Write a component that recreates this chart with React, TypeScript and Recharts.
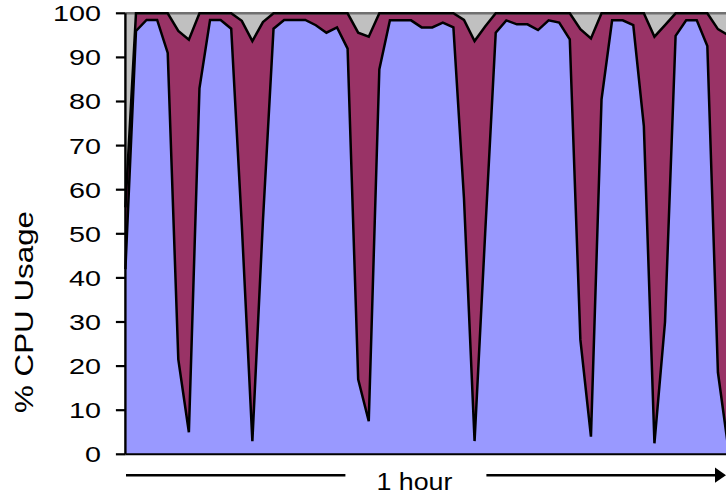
import React from 'react';
import { ComposedChart, Area, Line, XAxis, YAxis, Label } from 'recharts';

// CPU time split per sample across one hour; each sample sums to 100 %.
const userPct = [
  42, 96, 98.5, 98.5, 91, 21.5, 5, 83, 98.5, 98.5,
  96.5, 52, 3, 53, 96.5, 98.5, 98.5, 98.5, 97.3, 95.6,
  96.8, 92, 17, 7.5, 87.3, 98.4, 98.4, 98.4, 96.8, 96.8,
  97.9, 96.8, 58, 3, 50, 95.6, 98.4, 97.5, 97.5, 96.2,
  98.4, 97.9, 94.1, 26, 4, 80.5, 98.4, 98.4, 97.3, 74.4,
  2.5, 30, 94.9, 98.4, 98.4, 92.6, 18.6, 1,
];
const systemPct = [
  14, 4, 1.5, 1.5, 9, 74.5, 89, 17, 1.5, 1.5,
  3.5, 46.3, 90.7, 45, 3.5, 1.5, 1.5, 1.5, 2.7, 4.4,
  3.2, 8, 78.6, 87.2, 12.7, 1.6, 1.6, 1.6, 3.2, 3.2,
  2.1, 3.2, 40.5, 90.7, 47, 4.4, 1.6, 2.5, 2.5, 3.8,
  1.6, 2.1, 5.9, 70.4, 90.3, 19.5, 1.6, 1.6, 2.7, 25.6,
  92.2, 67.3, 5.1, 1.6, 1.6, 7.4, 77.8, 94,
];
const idlePct = [
  44, 0, 0, 0, 0, 4, 6, 0, 0, 0,
  0, 1.7, 6.3, 2, 0, 0, 0, 0, 0, 0,
  0, 0, 4.4, 5.3, 0, 0, 0, 0, 0, 0,
  0, 0, 1.5, 6.3, 3, 0, 0, 0, 0, 0,
  0, 0, 0, 3.6, 5.7, 0, 0, 0, 0, 0,
  5.3, 2.7, 0, 0, 0, 0, 3.6, 5,
];
const yTicks = [0, 10, 20, 30, 40, 50, 60, 70, 80, 90, 100];
const yTitle = '% CPU Usage';
const spanLabel = '1 hour';

const FONT = '"Liberation Sans", Arial, sans-serif';

const data = userPct.map((u, i) => ({
  t: i,
  user: u,
  system: systemPct[i],
  idle: idlePct[i],
}));

const YTick = (props: any) => {
  const { x, y, payload } = props;
  const s = String(payload.value);
  return (
    <text
      x={x}
      y={y}
      dy="0.36em"
      textAnchor="end"
      fontFamily={FONT}
      fontSize={22}
      fill="#000"
      textLength={16 * s.length}
      lengthAdjust="spacingAndGlyphs"
    >
      {s}
    </text>
  );
};

const YTitle = (props: any) => {
  const vb = props.viewBox || { x: 0, y: 0, width: 0, height: 0 };
  const cx = vb.x + 17.6;
  const cy = vb.y + 298.7;
  return (
    <text
      x={cx}
      y={cy}
      transform={`rotate(-90, ${cx}, ${cy})`}
      textAnchor="middle"
      fontFamily={FONT}
      fontSize={25}
      fill="#000"
      textLength={202}
      lengthAdjust="spacingAndGlyphs"
    >
      {yTitle}
    </text>
  );
};

// Time-span arrow under the horizontal axis
const HourArrow = (props: any) => {
  const vb = props.viewBox || { x: 0, y: 0, width: 0, height: 0 };
  const y = vb.y + 20.9;
  const x0 = vb.x;
  return (
    <g>
      <line x1={x0 + 0.6} y1={y} x2={x0 + 220} y2={y} stroke="#000" strokeWidth={2.6} />
      <text
        x={x0 + 251}
        y={vb.y + 35.7}
        fontFamily={FONT}
        fontSize={23}
        fill="#000"
        textLength={76}
        lengthAdjust="spacingAndGlyphs"
      >
        {spanLabel}
      </text>
      <line x1={x0 + 361} y1={y} x2={x0 + 592} y2={y} stroke="#000" strokeWidth={2.6} />
      <polygon
        points={`${x0 + 589.6},${y - 7.6} ${x0 + 600.6},${y} ${x0 + 589.6},${y + 7.6}`}
        fill="#000"
      />
    </g>
  );
};

export default function App() {
  return (
    <div
      style={{
        position: 'fixed',
        left: 0,
        top: 0,
        width: 726,
        height: 495,
        overflow: 'hidden',
        background: '#fff',
      }}
    >
      <ComposedChart
        width={729}
        height={495}
        data={data}
        margin={{ top: 13.3, right: 0.5, bottom: 0, left: 15.4 }}
      >
        <XAxis
          type="number"
          dataKey="t"
          domain={[0, userPct.length - 1]}
          tick={false}
          tickLine={false}
          axisLine={{ stroke: '#000', strokeWidth: 2 }}
          height={40.7}
        >
          <Label content={HourArrow} />
        </XAxis>
        <YAxis
          type="number"
          domain={[0, 100]}
          ticks={yTicks}
          interval={0}
          width={110}
          tickSize={9.5}
          tickMargin={15}
          tick={YTick}
          tickLine={{ stroke: '#000', strokeWidth: 2.2 }}
          axisLine={{ stroke: '#000', strokeWidth: 2.4 }}
        >
          <Label content={YTitle} />
        </YAxis>
        <Area
          type="linear"
          dataKey="user"
          stackId="cpu"
          fill="#9999FF"
          fillOpacity={1}
          stroke="none"
          isAnimationActive={false}
        />
        <Area
          type="linear"
          dataKey="system"
          stackId="cpu"
          fill="#993366"
          fillOpacity={1}
          stroke="none"
          isAnimationActive={false}
        />
        <Area
          type="linear"
          dataKey="idle"
          stackId="cpu"
          fill="#C0C0C0"
          fillOpacity={1}
          stroke="#707070"
          strokeWidth={2.4}
          isAnimationActive={false}
        />
        <Line
          type="linear"
          dataKey={(d: any) => d.user + d.system}
          stroke="#000"
          strokeWidth={2.5}
          dot={false}
          isAnimationActive={false}
        />
        <Line
          type="linear"
          dataKey={(d: any) => d.user}
          stroke="#000"
          strokeWidth={2.5}
          dot={false}
          isAnimationActive={false}
        />
      </ComposedChart>
    </div>
  );
}
